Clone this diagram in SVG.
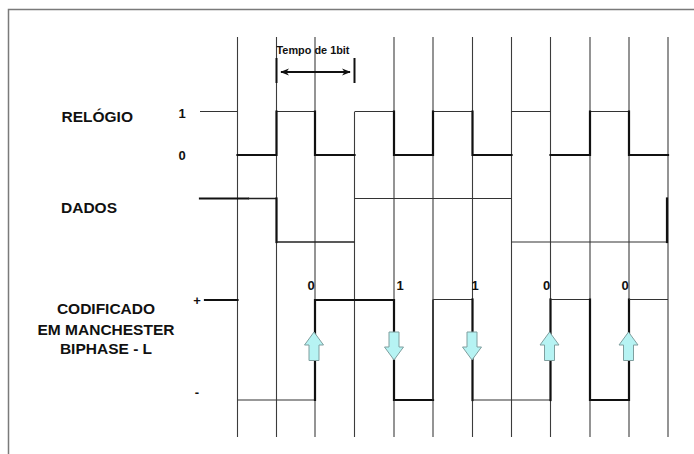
<svg xmlns="http://www.w3.org/2000/svg" width="694" height="454" viewBox="0 0 694 454">
<defs>
<style>
.grid{stroke:#3c3c3c;stroke-width:1.1;fill:none}
.thick{stroke:#111;stroke-width:2.2;fill:none;stroke-linecap:square}
.med{stroke:#222;stroke-width:1.5;fill:none}
.thin{stroke:#333;stroke-width:1.1;fill:none}
.lbl{font-family:"Liberation Sans",Arial,sans-serif;font-weight:bold;fill:#111}
.arrow{fill:#b6f3f3;stroke:#7f9f9f;stroke-width:1}
</style>
<marker id="ah" viewBox="0 0 10 10" refX="9" refY="5" markerWidth="9" markerHeight="9" markerUnits="userSpaceOnUse" orient="auto-start-reverse">
<path d="M0,1 L10,5 L0,9 L3,5 Z" fill="#111"/>
</marker>
</defs>
<rect width="694" height="454" fill="#fff"/>
<g id="frame">
<path d="M8.5,454 L8.5,9.5 L694,9.5" stroke="#7a7a7a" stroke-width="1.5" fill="none"/>
</g>
<g id="grid" class="grid">
<line x1="237.5" y1="37" x2="237.5" y2="437"/>
<line x1="276.5" y1="37" x2="276.5" y2="437"/>
<line x1="315" y1="37" x2="315" y2="437"/>
<line x1="354.5" y1="112" x2="354.5" y2="437"/>
<line x1="394" y1="37" x2="394" y2="437"/>
<line x1="433" y1="37" x2="433" y2="437"/>
<line x1="472.5" y1="37" x2="472.5" y2="437"/>
<line x1="511.5" y1="37" x2="511.5" y2="437"/>
<line x1="550.5" y1="37" x2="550.5" y2="437"/>
<line x1="590" y1="37" x2="590" y2="437"/>
<line x1="629" y1="37" x2="629" y2="437"/>
<line x1="668" y1="37" x2="668" y2="437"/>
</g>
<g id="bit-time">
<line x1="276.5" y1="58" x2="276.5" y2="83" stroke="#111" stroke-width="2"/>
<line x1="354.5" y1="58" x2="354.5" y2="83" stroke="#111" stroke-width="2"/>
<line x1="281" y1="72" x2="350" y2="72" stroke="#111" stroke-width="1.8" marker-start="url(#ah)" marker-end="url(#ah)"/>
<text class="lbl" x="276.5" y="54" font-size="10" textLength="73" lengthAdjust="spacingAndGlyphs">Tempo de 1bit</text>
</g>
<g id="clock">
<path class="thin" d="M200,111.5 H237.5 M276.5,111.5 H315 M354.5,111.5 H394 M433,111.5 H472.5 M511.5,111.5 H550.5 M590,111.5 H629"/>
<path class="thick" d="M237.5,155 H276.5 V111.5 M315,111.5 V155 H354.5 M394,111.5 V155 H433 V111.5 M472.5,111.5 V155 H511.5 M550.5,155 H590 V111.5 M629,111.5 V155 H668"/>
</g>
<g id="data">
<path class="thick" d="M200,198.5 H248"/>
<path class="med" d="M248,198.5 H276.5"/>
<path class="thick" d="M276.5,198.5 V242"/>
<path class="med" d="M276.5,242 H354.5"/>
<path class="thin" d="M354.5,198.5 H511.5 M511.5,242 H668"/>
<path class="thick" d="M667,198.5 V242"/>
</g>
<g id="manchester">
<path class="thick" d="M205,300 H237.5"/>
<path class="thin" d="M237.5,400 H315"/>
<path class="thick" d="M315,400 V300 H394 V400 H433"/>
<path class="med" d="M433,400 V299.5"/>
<path class="thin" d="M433,299.5 H472.5"/>
<path class="thick" d="M472.5,299.5 V400"/>
<path class="thin" d="M472.5,400 H550.5"/>
<path class="thick" d="M550.5,400 V299.5"/>
<path class="thin" d="M550.5,299.5 H590"/>
<path class="thick" d="M590,299.5 V400 H629 V299.5"/>
<path class="thin" d="M629,299.5 H668"/>
</g>
<g id="transitions">
<path class="arrow" d="M314,332 L323.5,345 L319,345 L319,360.5 L309,360.5 L309,345 L304.5,345 Z"/>
<path class="arrow" d="M394,360 L403.5,347 L399,347 L399,332 L389,332 L389,347 L384.5,347 Z"/>
<path class="arrow" d="M472,360 L481.5,347 L477,347 L477,332 L467,332 L467,347 L462.5,347 Z"/>
<path class="arrow" d="M549.5,332 L559,345 L554.5,345 L554.5,360.5 L544.5,360.5 L544.5,345 L540,345 Z"/>
<path class="arrow" d="M628.5,332 L638,345 L633.5,345 L633.5,360.5 L623.5,360.5 L623.5,345 L619,345 Z"/>
</g>
<g id="labels" class="lbl">
<text x="61.5" y="122" font-size="15.5">RELÓGIO</text>
<text x="61" y="212.5" font-size="15.5">DADOS</text>
<text x="106" y="314" font-size="15.5" text-anchor="middle">CODIFICADO</text>
<text x="106" y="334.5" font-size="15.5" text-anchor="middle">EM MANCHESTER</text>
<text x="106" y="354" font-size="15.5" text-anchor="middle">BIPHASE - L</text>
<text x="178.5" y="117.5" font-size="13">1</text>
<text x="178.5" y="160" font-size="13">0</text>
<text x="197" y="304.5" font-size="13" text-anchor="middle">+</text>
<text x="197" y="397" font-size="13" text-anchor="middle">-</text>
<text x="307.5" y="289.5" font-size="13">0</text>
<text x="396.5" y="289.5" font-size="13">1</text>
<text x="471.5" y="289.5" font-size="13">1</text>
<text x="543" y="289.5" font-size="13">0</text>
<text x="621.5" y="289.5" font-size="13">0</text>
</g>
</svg>
